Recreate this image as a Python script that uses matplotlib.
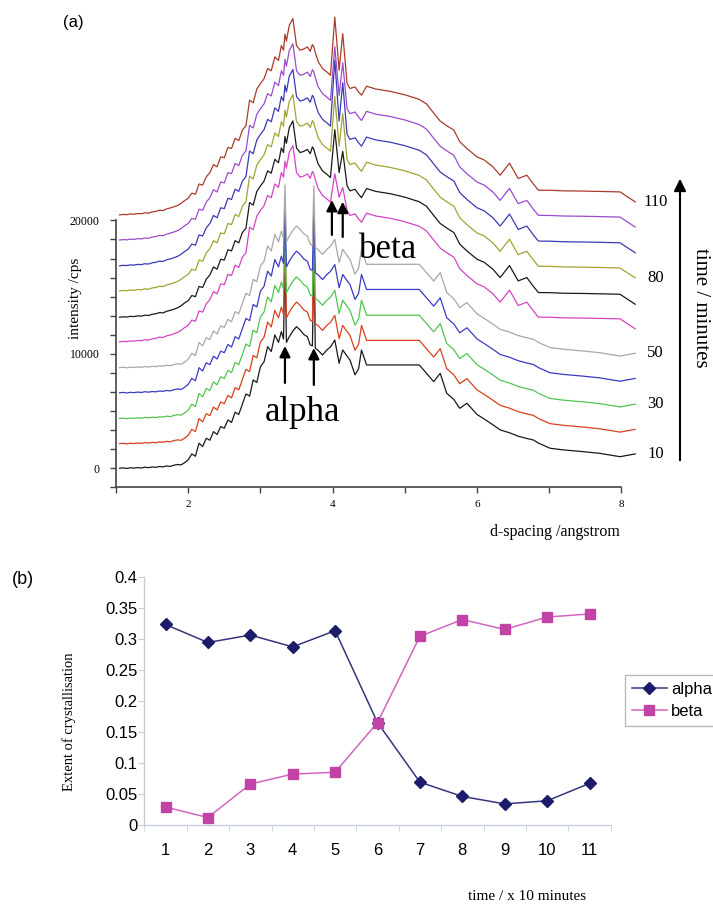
import matplotlib
matplotlib.use('Agg')
import matplotlib.pyplot as plt
import numpy as np

plt.rcParams['font.family'] = ['Liberation Sans', 'DejaVu Sans']
SERIF = 'Liberation Serif'

# ---- panel (a): powder patterns, 10 min (bottom) to 110 min (top) ----
d_spacing = [1.05, 1.10, 1.15, 1.20, 1.25, 1.30, 1.35, 1.40, 1.45, 1.50,
             1.55, 1.60, 1.65, 1.70, 1.75, 1.80, 1.85, 1.90, 1.95, 2.00,
             2.05, 2.10, 2.15, 2.20, 2.25, 2.30, 2.35, 2.40, 2.45, 2.50,
             2.55, 2.60, 2.65, 2.70, 2.75, 2.80, 2.85, 2.90, 2.95, 3.00,
             3.05, 3.10, 3.15, 3.20, 3.25, 3.29, 3.32, 3.34, 3.36, 3.40,
             3.45, 3.50, 3.55, 3.60, 3.65, 3.69, 3.72, 3.74, 3.76, 3.80,
             3.86, 3.92, 3.97, 4.03, 4.09, 4.14, 4.20, 4.24,
             4.31, 4.36, 4.40, 4.47, 4.60, 4.80, 5.00, 5.20, 5.30,
             5.40, 5.49, 5.58, 5.68, 5.76, 5.86, 6.00, 6.10, 6.22, 6.32,
             6.45, 6.57, 6.69, 6.78, 6.85, 7.01, 7.20, 7.47, 7.70, 7.98, 8.19]

early_profile = [0, 30, -20, 40, 10, 60, 20, 90, 50, 110,
                 80, 150, 120, 200, 160, 260, 330, 290, 480, 730,
                 1250, 1050, 2190, 1900, 2620, 2450, 3200, 2950, 3640, 3500,
                 4220, 4000, 4900, 4700, 5600, 6500, 6300, 7720, 7500, 8880,
                 9300, 10630, 10200, 11650, 11000, 11940, 11300, 11600, 11000, 11500,
                 12000, 12380, 12090, 11700, 11500, 10780, 10700, 10900, 10500, 10300,
                 9900, 10340, 10600, 11210, 9180, 10340, 9800, 9470,
                 8160, 8700, 10340, 9030, 9030, 9030, 9030, 9030, 8300,
                 7570, 8300, 6560, 6000, 5240, 5680, 4700, 4300, 3800, 3350,
                 3100, 2800, 2600, 2470, 2200, 1750, 1600, 1450, 1300, 1010, 1250]

late_profile = [0, 40, 20, 80, 60, 120, 100, 180, 150, 260,
                300, 410, 380, 520, 600, 700, 820, 1000, 1250, 1450,
                1900, 1800, 2700, 2600, 3320, 3700, 4400, 4200, 5070, 5000,
                5900, 5800, 6700, 6500, 7400, 7800, 10030, 9800, 11000, 11480,
                11900, 12800, 12600, 13810, 13500, 14800, 14400, 15800, 15200, 16580,
                17160, 14800, 14400, 14500, 14680, 14300, 14900, 14680, 14200, 13400,
                12800, 12500, 12210, 12600, 12650, 12000, 11500, 11050,
                11190, 10750, 10460, 11250, 11000, 10800, 10500, 10100, 9700,
                8900, 8200, 7800, 7400, 6400, 5800, 5070, 4800, 4200, 3470,
                4520, 3180, 3470, 2700, 2160, 2150, 2100, 2080, 2050, 2010, 1140]

trace_minutes = [10, 20, 30, 40, 50, 60, 70, 80, 90, 100, 110]
trace_offsets = [0, 2150, 4350, 6600, 8800, 11050, 13200, 15500, 17700, 19950, 22150]
trace_kind = ['early', 'early', 'early', 'early', 'early',
              'late', 'late', 'late', 'late', 'late', 'late']
trace_colors = ['#1a1a1a', '#d8401e', '#52c452', '#3a3ac4', '#a8a8a8', '#d444c4',
                '#1a1a1a', '#a3a334', '#3a3ab4', '#9a4ccc', '#a83c2a']
# peak tops (cps above each trace's own baseline), 0 = no sharp peak
alpha_peak_1 = [19000, 17800, 16900, 16400, 15960, 0, 0, 0, 0, 0, 0]
alpha_peak_2 = [18800, 17600, 16800, 16300, 15900, 0, 0, 0, 0, 0, 0]
beta_peak_1 = [0, 0, 0, 0, 0, 14700, 16400, 17000, 18000, 16900, 17300]
beta_peak_2 = [0, 0, 0, 0, 0, 13500, 14500, 15500, 16000, 15500, 15850]
labelled_minutes = ['10', '30', '50', '80', '110']

# ---- panel (b): extent of crystallisation ----
time_steps = [1, 2, 3, 4, 5, 6, 7, 8, 9, 10, 11]
alpha_extent = [0.323, 0.294, 0.306, 0.287, 0.313, 0.165, 0.069, 0.046, 0.034, 0.039, 0.067]
beta_extent = [0.029, 0.012, 0.066, 0.082, 0.085, 0.165, 0.304, 0.331, 0.315, 0.335, 0.340]

W, H = 713.0, 905.0
fig = plt.figure(figsize=(7.13, 9.05), dpi=100)

ax1 = fig.add_axes([116 / W, 1 - 487.3 / H, 523.5 / W, 482.3 / H])
for i in range(len(trace_offsets)):
    if trace_kind[i] == 'early':
        y = list(early_profile)
    else:
        y = list(late_profile)
    if alpha_peak_1[i] > 0:
        y[d_spacing.index(3.34)] = alpha_peak_1[i]
        y[d_spacing.index(3.74)] = alpha_peak_2[i]
    if beta_peak_1[i] > 0:
        y[d_spacing.index(4.03)] = beta_peak_1[i]
        y[d_spacing.index(4.14)] = beta_peak_2[i]
    y = np.array(y) + trace_offsets[i]
    ax1.plot(d_spacing, y, color=trace_colors[i], lw=0.9)
    m = str(trace_minutes[i])
    if m in labelled_minutes:
        ax1.text(8.47, y[-1], m, family=SERIF, fontsize=12, ha='center', va='center')

ax1.set_xlim(1.0, 8.25)
ax1.set_ylim(-1667, 40500)
for s in ['top', 'right']:
    ax1.spines[s].set_visible(False)
ax1.spines['left'].set_bounds(-1666.7, 21666.7)
ax1.spines['bottom'].set_bounds(1, 8)
for s in ['left', 'bottom']:
    ax1.spines[s].set_color('#444444')
    ax1.spines[s].set_linewidth(1.2)
yt = np.linspace(-1666.7, 21666.7, 15)
ylab = ['' for _ in yt]
ylab[1] = '0'
ylab[7] = '10000'
ylab[14] = '20000'
ax1.set_yticks(yt)
ax1.set_yticklabels(ylab, family=SERIF, fontsize=8.5)
ax1.set_xticks([1, 2, 3, 4, 5, 6, 7, 8])
ax1.set_xticklabels(['', '2', '', '4', '', '6', '', '8'], family=SERIF, fontsize=8)
ax1.tick_params(axis='y', length=4, width=1, color='#444444', pad=8)
ax1.tick_params(axis='x', length=4, width=1, color='#444444', pad=5)
ax1.patch.set_visible(False)

arrow = dict(arrowstyle='-|>', mutation_scale=16, lw=1.6, color='black', shrinkA=0, shrinkB=0)
ax1.annotate('', xy=(3.34, 10690), xytext=(3.34, 7460), arrowprops=arrow)
ax1.annotate('', xy=(3.74, 10510), xytext=(3.74, 7280), arrowprops=arrow)
ax1.annotate('', xy=(3.99, 23450), xytext=(3.99, 20400), arrowprops=arrow)
ax1.annotate('', xy=(4.14, 23300), xytext=(4.14, 20220), arrowprops=arrow)

fig.text(302 / W, 1 - 421 / H, 'alpha', family=SERIF, fontsize=25, ha='center', va='baseline')
fig.text(388 / W, 1 - 258 / H, 'beta', family=SERIF, fontsize=25, ha='center', va='baseline')
fig.text(75 / W, 1 - 298 / H, 'intensity /cps', family=SERIF, fontsize=11,
         rotation=90, ha='center', va='center')
fig.text(555 / W, 1 - 532 / H, 'd-spacing /angstrom', family=SERIF, fontsize=11.5,
         ha='center', va='center')
fig.text(700 / W, 1 - 308 / H, 'time / minutes', family=SERIF, fontsize=15,
         rotation=-90, ha='center', va='center')
fig.add_artist(matplotlib.patches.FancyArrowPatch(
    (680 / W, 1 - 463 / H), (680 / W, 1 - 176 / H), transform=fig.transFigure,
    arrowstyle='-|>', mutation_scale=18, lw=1.5, color='black'))
fig.text(63 / W, 1 - 22 / H, '(a)', fontsize=12, ha='left', va='center')
fig.text(12 / W, 1 - 579 / H, '(b)', fontsize=13, ha='left', va='center')

# ---- panel (b) ----
ax2 = fig.add_axes([144.3 / W, 1 - 825 / H, (610.7 - 144.3) / W, (825 - 576.7) / H])
l1, = ax2.plot(time_steps, alpha_extent, color='#35357f', lw=1.1, marker='D', ms=6,
               mfc='#1c1c6a', mec='#1c1c6a', label='alpha')
l2, = ax2.plot(time_steps, beta_extent, color='#d066c0', lw=1.1, marker='s', ms=6.5,
               mfc='#c243a6', mec='#c243a6', label='beta')
ax2.set_xlim(0.5, 11.5)
ax2.set_ylim(0, 0.4)
for s in ['top', 'right']:
    ax2.spines[s].set_visible(False)
for s in ['left', 'bottom']:
    ax2.spines[s].set_color('#c4cedc')
    ax2.spines[s].set_linewidth(1.0)
ax2.set_yticks([0, 0.05, 0.1, 0.15, 0.2, 0.25, 0.3, 0.35, 0.4])
ax2.set_yticklabels(['0', '0.05', '0.1', '0.15', '0.2', '0.25', '0.3', '0.35', '0.4'], fontsize=12)
ax2.set_xticks(time_steps)
ax2.set_xticklabels([str(t) for t in time_steps], fontsize=12)
ax2.set_xticks([t - 0.5 for t in time_steps] + [11.5], minor=True)
ax2.tick_params(axis='x', which='major', length=0, pad=13)
ax2.tick_params(axis='x', which='minor', length=4, color='#c4cedc')
ax2.tick_params(axis='y', length=4, color='#c4cedc', pad=1)
fig.text(69 / W, 1 - 722 / H, 'Extent of crystallisation', family=SERIF, fontsize=10.5,
         rotation=90, ha='center', va='center')
fig.text(527 / W, 1 - 896 / H, 'time / x 10 minutes', family=SERIF, fontsize=11,
         ha='center', va='center')
leg = fig.legend(handles=[l1, l2], loc='upper left', bbox_to_anchor=(625 / W, 1 - 675 / H),
                 fontsize=12, frameon=True, fancybox=False, borderaxespad=0,
                 handlelength=2.1, handletextpad=0.25, borderpad=0.4, labelspacing=0.45)
leg.get_frame().set_edgecolor('#a8a8a8')
leg.get_frame().set_linewidth(1.0)

fig.savefig('out.png', dpi=100)
